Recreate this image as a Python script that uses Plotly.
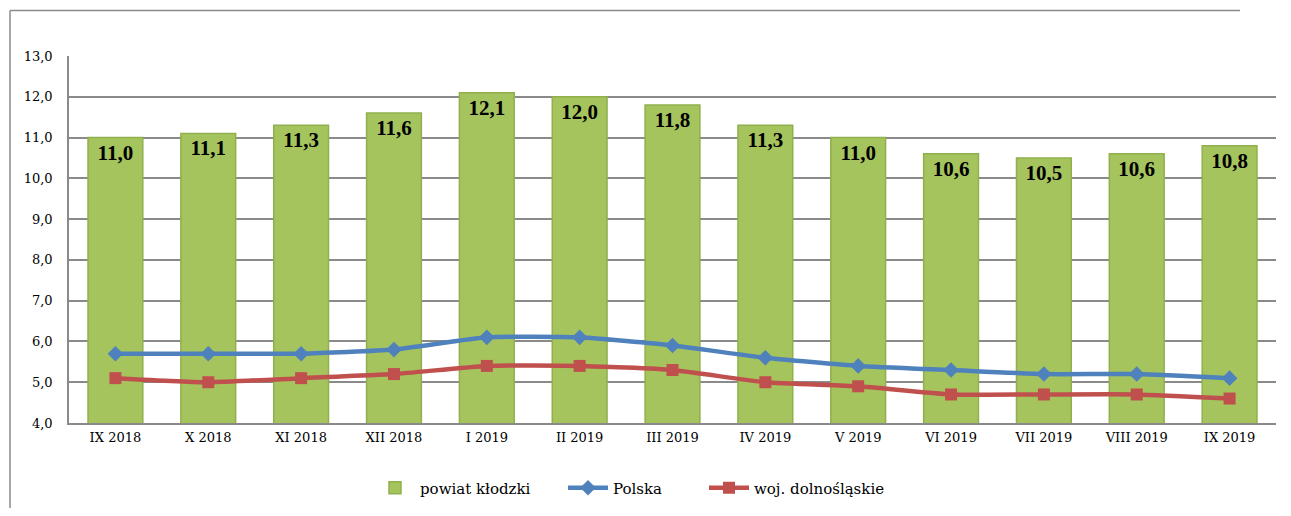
import plotly.graph_objects as go

categories = ["IX 2018", "X 2018", "XI 2018", "XII 2018", "I 2019", "II 2019", "III 2019",
              "IV 2019", "V 2019", "VI 2019", "VII 2019", "VIII 2019", "IX 2019"]
powiat = [11.0, 11.1, 11.3, 11.6, 12.1, 12.0, 11.8, 11.3, 11.0, 10.6, 10.5, 10.6, 10.8]
polska = [5.7, 5.7, 5.7, 5.8, 6.1, 6.1, 5.9, 5.6, 5.4, 5.3, 5.2, 5.2, 5.1]
dolnoslaskie = [5.1, 5.0, 5.1, 5.2, 5.4, 5.4, 5.3, 5.0, 4.9, 4.7, 4.7, 4.7, 4.6]
powiat_labels = [f"{v:.1f}".replace(".", ",") for v in powiat]

FONT = "DejaVu Serif"
LFONT = "Liberation Serif"
GRID = "#8a8a8a"

# page body has an 8px margin; the figure is sized/margined to compensate
OX = 8  # screen offset of the figure
W, H = 1291 - 2 * OX, 516 - 2 * OX
L, T = 69 - OX, 56 - OX
R = W + OX - 1276
B = H + OX - 423
PW = W - L - R
PH = H - T - B


def px_to_paper_x(px):
    return (px - OX - L) / PW


def px_to_paper_y(py):
    return 1 - (py - OX - T) / PH


fig = go.Figure()
fig.add_trace(go.Bar(
    x=categories, y=powiat, name="powiat kłodzki", legend="legend",
    marker=dict(color="#A6C45E", line=dict(color="#8FB04C", width=1.5)),
    text=powiat_labels, textposition="inside", insidetextanchor="end",
    textfont=dict(family=LFONT, size=21, color="black", weight="bold"),
    constraintext="none", textangle=0,
))
fig.add_trace(go.Scatter(
    x=categories, y=polska, name="Polska", mode="lines+markers", legend="legend2",
    line=dict(color="#4F81BD", width=4.5, shape="spline", smoothing=0.5),
    marker=dict(symbol="diamond", size=12, color="#4F81BD"),
))
fig.add_trace(go.Scatter(
    x=categories, y=dolnoslaskie, name="woj. dolnośląskie", mode="lines+markers",
    legend="legend3",
    line=dict(color="#C0504D", width=4.5, shape="spline", smoothing=0.5),
    marker=dict(symbol="square", size=12, color="#C0504D"),
))

leg_y = (516 - OX - 488) / H
leg_common = dict(orientation="h", xanchor="left", xref="paper", yref="container",
                  y=leg_y, yanchor="middle", bgcolor="rgba(0,0,0,0)",
                  font=dict(family=FONT, size=15, color="black"), itemwidth=40)

fx0 = px_to_paper_x(10)
fx1 = px_to_paper_x(1240)
fy_top = px_to_paper_y(10.5)
fy_bot = px_to_paper_y(512)

fig.update_layout(
    width=W, height=H,
    margin=dict(l=L, r=R, t=T, b=B, autoexpand=False),
    paper_bgcolor="white", plot_bgcolor="white",
    separators=", ",
    bargap=0.41,
    font=dict(family=FONT, size=13, color="black"),
    showlegend=True,
    legend=dict(x=px_to_paper_x(370), **leg_common),
    legend2=dict(x=px_to_paper_x(563), **leg_common),
    legend3=dict(x=px_to_paper_x(704), **leg_common),
    shapes=[
        dict(type="line", xref="paper", yref="paper",
             x0=fx0, x1=fx0, y0=fy_bot, y1=fy_top,
             line=dict(color=GRID, width=1.5), layer="below"),
        dict(type="line", xref="paper", yref="paper",
             x0=fx0, x1=fx1, y0=fy_top, y1=fy_top,
             line=dict(color=GRID, width=1.5), layer="below"),
    ],
)
fig.update_xaxes(range=[-0.5, len(categories) - 0.5], showline=True, linecolor=GRID,
                 linewidth=1.5, showgrid=False,
                 ticks="", tickfont=dict(family=FONT, size=13), ticklabelstandoff=2)
fig.update_yaxes(range=[4, 13], dtick=1, tickformat=".1f", showline=True, linecolor=GRID,
                 linewidth=1.5, showgrid=True, gridcolor=GRID, gridwidth=1.5,
                 ticks="", tickfont=dict(family=FONT, size=13), zeroline=False,
                 ticklabelstandoff=12)

fig.write_html("out.html")
